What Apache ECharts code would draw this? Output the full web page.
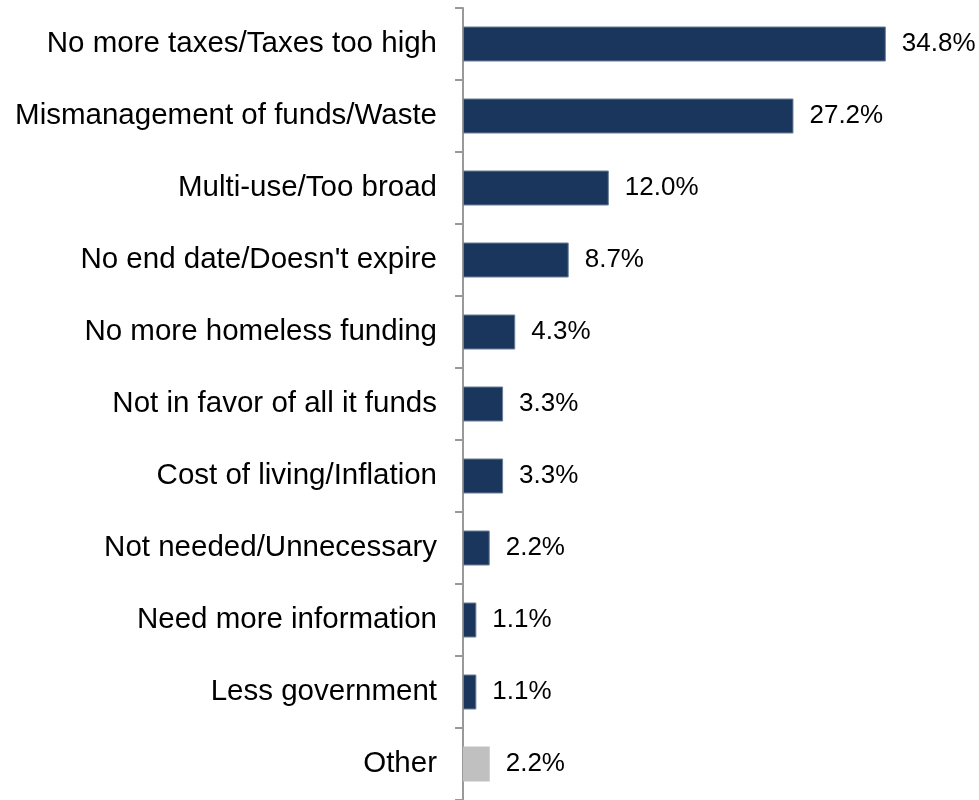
<!DOCTYPE html>
<html>
<head>
<meta charset="utf-8">
<script src="https://cdn.jsdelivr.net/npm/echarts@6/dist/echarts.min.js"></script>
<style>html,body{margin:0;padding:0;background:#fff}#c{width:979px;height:800px}</style>
</head>
<body>
<div id="c"></div>
<script>
const categories = [
  "No more taxes/Taxes too high",
  "Mismanagement of funds/Waste",
  "Multi-use/Too broad",
  "No end date/Doesn't expire",
  "No more homeless funding",
  "Not in favor of all it funds",
  "Cost of living/Inflation",
  "Not needed/Unnecessary",
  "Need more information",
  "Less government",
  "Other"
];
const values = [34.8, 27.2, 12.0, 8.7, 4.3, 3.3, 3.3, 2.2, 1.1, 1.1, 2.2];
const highlightCategory = "Other";

const chart = echarts.init(document.getElementById('c'), null, {renderer: 'canvas'});
const data = values.map((v, i) => ({
  value: v,
  itemStyle: categories[i] === highlightCategory
    ? {color: '#c0c0c0', borderColor: '#c0c0c0', borderWidth: 0}
    : {color: '#1b365d', borderColor: '#6a7e99', borderWidth: 1}
}));
chart.setOption({
  animation: false,
  grid: {left: 463, right: 30, top: 8, bottom: 0, containLabel: false},
  xAxis: {type: 'value', min: 0, max: 40, show: false},
  yAxis: {
    type: 'category',
    data: categories,
    inverse: true,
    axisLine: {show: true, lineStyle: {color: '#999999', width: 2}},
    axisTick: {show: true, length: 8, alignWithLabel: false, lineStyle: {color: '#999999', width: 2}},
    axisLabel: {
      margin: 26,
      fontFamily: 'Liberation Sans, Arial, sans-serif',
      fontSize: 29.5,
      color: '#000000',
      padding: [3, 0, 0, 0]
    }
  },
  series: [{
    type: 'bar',
    data: data,
    barWidth: 35,
    label: {
      show: true,
      position: 'right',
      distance: 16,
      fontFamily: 'Liberation Sans, Arial, sans-serif',
      fontSize: 26,
      color: '#000000',
      padding: [3, 0, 0, 0],
      formatter: p => p.value.toFixed(1) + '%'
    }
  }]
});
</script>
</body>
</html>
